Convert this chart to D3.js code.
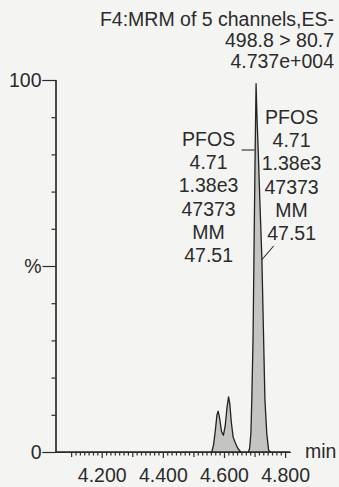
<!DOCTYPE html>
<html><head><meta charset="utf-8">
<script src="https://cdn.jsdelivr.net/npm/d3@7"></script>
<style>
html,body{margin:0;padding:0;background:#f4f4f2;}
svg{display:block;}
text{font-family:"Liberation Sans",Arial,sans-serif;fill:#2b2b2b;}
</style></head>
<body>
<script>
// ---- data ----
const times = [4.050, 4.560, 4.566, 4.572, 4.577, 4.581, 4.586, 4.592, 4.598, 4.604, 4.610, 4.615, 4.619, 4.624, 4.630, 4.637, 4.645, 4.655,
               4.680, 4.684, 4.688, 4.691, 4.695, 4.698, 4.702, 4.705, 4.708, 4.712, 4.718, 4.724, 4.729, 4.734, 4.740, 4.746, 4.752, 4.815];
const intensity = [0, 0, 2, 6, 10, 11, 9, 5.5, 4.5, 7, 12, 14.8, 13, 8, 4, 2.5, 1, 0,
                   0, 1, 5, 14, 30, 52, 81, 99, 90, 81, 66, 52, 33, 14, 5, 0.5, 0, 0];
const xTickLabels = [4.2, 4.4, 4.6, 4.8];
const yTickLabels = [0, 50, 100];
const headerLines = ["F4:MRM of 5 channels,ES-", "498.8 > 80.7", "4.737e+004"];
const peakLabelLines = ["PFOS", "4.71", "1.38e3", "47373", "MM", "47.51"];
const peakTime = 4.71;

const W = 339, H = 487;
const svg = d3.select("body").append("svg").attr("width", W).attr("height", H);
const x = d3.scaleLinear().domain([4.0488, 4.816]).range([55.5, 290]);
const y = d3.scaleLinear().domain([0, 100]).range([452, 80]);
const FS = 19.5;
const INK = "#2b2b2b";

// peaks
const data = times.map((t, i) => ({t, v: intensity[i]}));
svg.append("path").datum(data)
  .attr("d", d3.area().x(d => x(d.t)).y0(y(0)).y1(d => y(d.v)))
  .attr("fill", "#c4c4c2").attr("stroke", "#222").attr("stroke-width", 1.3).attr("stroke-linejoin", "round");

// y axis
const yMinor = d3.range(10, 100, 10).filter(v => v !== 50);
svg.append("g").attr("transform", `translate(${x.range()[0]},0)`)
  .call(d3.axisLeft(y).tickValues(yMinor).tickSize(4).tickFormat(""));
const gy = svg.append("g").attr("transform", `translate(${x.range()[0]},0)`)
  .call(d3.axisLeft(y).tickValues(yTickLabels).tickSize(13).tickPadding(1)
    .tickFormat(d => d === 50 ? "%" : String(d)));
gy.selectAll("text").attr("font-size", FS).attr("font-family", "Liberation Sans, Arial, sans-serif").attr("fill", INK);

// x axis
const step = 0.1 / 7;
const allTicks = d3.range(0, 60).map(i => 4.1 + i * step).filter(t => t >= 4.05 && t <= 4.81);
const isTenth = t => Math.abs(Math.round(t * 10) / 10 - t) <= 1e-6;
const xMinor = allTicks.filter(t => !isTenth(t));
const xMid = allTicks.filter(t => isTenth(t) && !xTickLabels.some(l => Math.abs(l - t) < 1e-6));
svg.append("g").attr("transform", `translate(0,${y(0)})`)
  .call(d3.axisBottom(x).tickValues(xMinor).tickSize(3.5).tickFormat("").tickSizeOuter(0));
svg.append("g").attr("transform", `translate(0,${y(0)})`)
  .call(d3.axisBottom(x).tickValues(xMid).tickSize(5).tickFormat("").tickSizeOuter(0));
const gx = svg.append("g").attr("transform", `translate(0,${y(0)})`)
  .call(d3.axisBottom(x).tickValues(xTickLabels).tickSize(6).tickPadding(10).tickSizeOuter(0)
    .tickFormat(d3.format(".3f")));
gx.selectAll("text").attr("font-size", FS).attr("font-family", "Liberation Sans, Arial, sans-serif").attr("fill", INK);
svg.selectAll(".domain, .tick line").attr("stroke", INK).attr("stroke-width", 1.2);

svg.append("text").attr("x", 305).attr("y", 458).attr("font-size", FS).text("min");

// header
svg.append("g").selectAll("text").data(headerLines).join("text")
  .attr("x", 334).attr("y", (d, i) => 26 + i * 21)
  .attr("text-anchor", "end").attr("font-size", FS).text(d => d);

// peak annotations
const px = x(peakTime);
svg.append("g").selectAll("text").data(peakLabelLines).join("text")
  .attr("x", px - 49).attr("y", (d, i) => 146 + i * 23.2)
  .attr("text-anchor", "middle").attr("font-size", FS).text(d => d);
svg.append("g").selectAll("text").data(peakLabelLines).join("text")
  .attr("x", px + 34).attr("y", (d, i) => 124 + i * 23.2)
  .attr("text-anchor", "middle").attr("font-size", FS).text(d => d);

svg.append("line").attr("x1", px - 16).attr("x2", px - 3).attr("y1", 150).attr("y2", 150)
  .attr("stroke", INK).attr("stroke-width", 1.1);
svg.append("line").attr("x1", px + 16).attr("x2", px + 4).attr("y1", 246).attr("y2", 260)
  .attr("stroke", INK).attr("stroke-width", 1.1);
</script>
</body></html>
